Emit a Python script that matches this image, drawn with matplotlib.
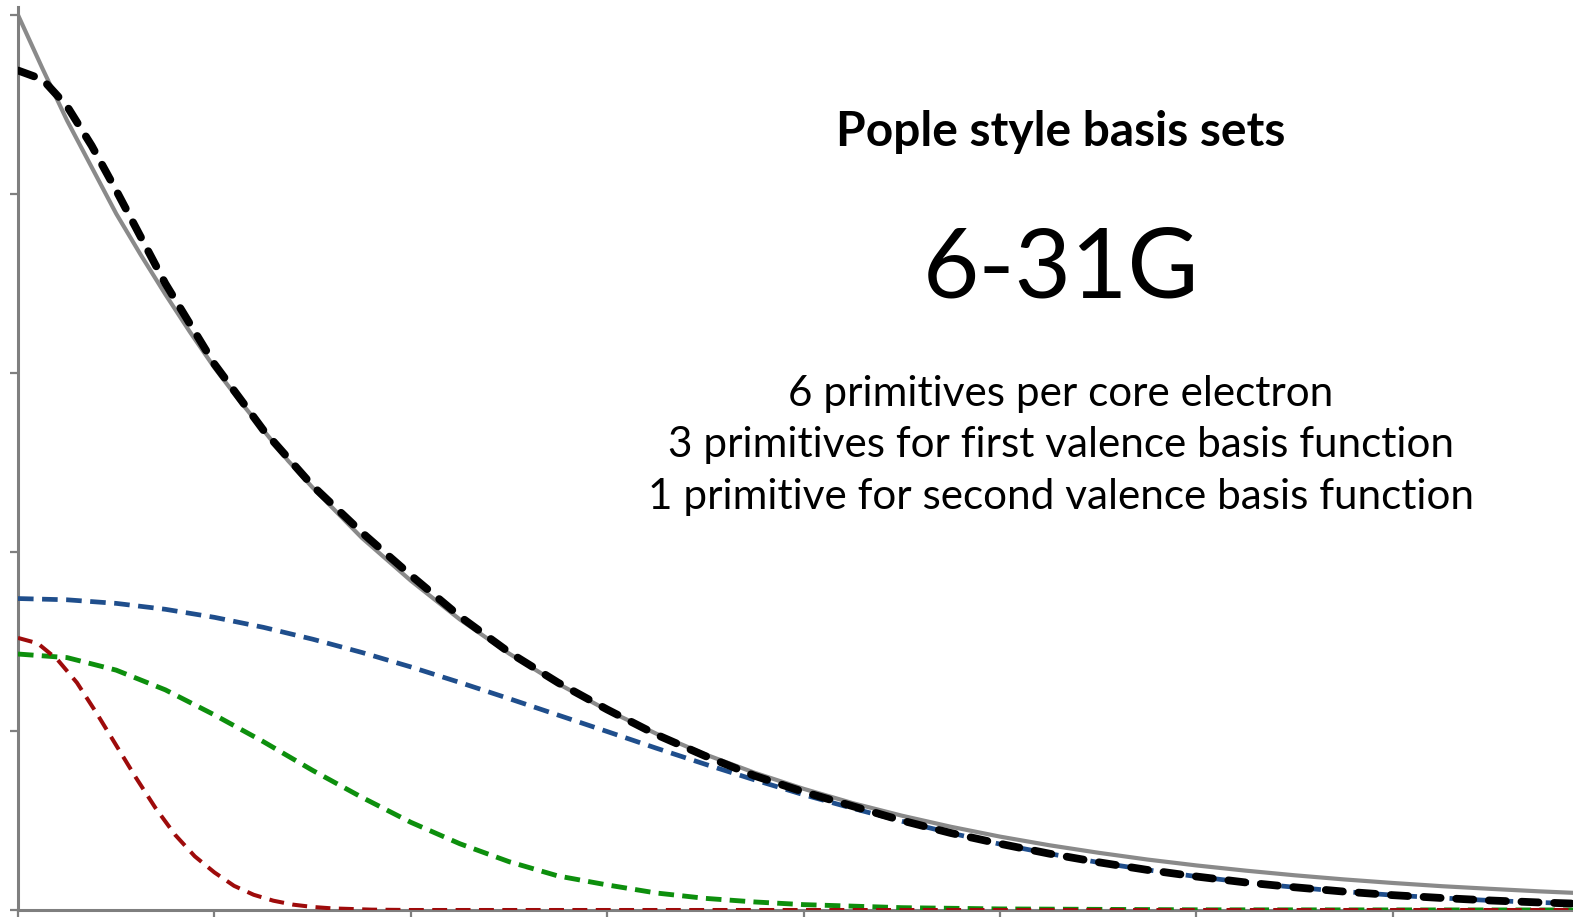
import matplotlib
matplotlib.use("Agg")
import matplotlib.pyplot as plt

# Slater-type orbital (reference curve)
sto_x = [0, 0.125, 0.25, 0.375, 0.5, 0.625, 0.75, 0.875, 1.0, 1.125, 1.25, 1.375, 1.5,
         1.625, 1.75, 1.875, 2.0, 2.25, 2.5, 2.75, 3.0, 3.25, 3.5, 3.75, 4.0, 4.25,
         4.5, 4.75, 5.0, 5.25, 5.5, 5.75, 6.0, 6.25, 6.5, 6.75, 7.0, 7.25, 7.5,
         7.75, 8.0]
sto_y = [5.00, 4.70, 4.41, 4.15, 3.89, 3.66, 3.44, 3.23, 3.03, 2.85, 2.68, 2.51, 2.36,
         2.22, 2.08, 1.96, 1.84, 1.623, 1.433, 1.264, 1.116, 0.985, 0.869, 0.767,
         0.677, 0.597, 0.527, 0.465, 0.410, 0.362, 0.320, 0.282, 0.249, 0.220,
         0.194, 0.171, 0.151, 0.133, 0.118, 0.104, 0.092]

# contracted function (sum of the primitives)
cgf_x = [0, 0.125, 0.25, 0.375, 0.5, 0.75, 1.0, 1.25, 1.5, 1.75, 2.0, 2.25, 2.5, 2.75,
         3.0, 3.25, 3.5, 3.75, 4.0, 4.25, 4.5, 4.75, 5.0, 5.25, 5.5, 5.75, 6.0,
         6.25, 6.5, 6.75, 7.0, 7.25, 7.5, 7.75, 8.0]
cgf_y = [4.69, 4.64, 4.49, 4.27, 4.02, 3.50, 3.05, 2.68, 2.37, 2.11, 1.87, 1.64, 1.44,
         1.27, 1.12, 0.98, 0.86, 0.75, 0.66, 0.58, 0.50, 0.43, 0.37, 0.315, 0.267,
         0.224, 0.187, 0.154, 0.127, 0.103, 0.083, 0.067, 0.053, 0.042, 0.033]

# primitives
wide_x = [0, 0.25, 0.5, 0.75, 1.0, 1.25, 1.5, 1.75, 2.0, 2.25, 2.5, 2.75, 3.0, 3.25,
          3.5, 3.75, 4.0, 4.25, 4.5, 4.75, 5.0, 5.25, 5.5, 5.75, 6.0, 6.25, 6.5,
          6.75, 7.0, 7.25, 7.5, 7.75, 8.0]
wide_y = [1.74, 1.733, 1.713, 1.680, 1.635, 1.579, 1.513, 1.439, 1.358, 1.271, 1.181,
          1.089, 0.997, 0.904, 0.814, 0.727, 0.644, 0.568, 0.496, 0.430, 0.368,
          0.315, 0.266, 0.224, 0.187, 0.154, 0.127, 0.103, 0.083, 0.067, 0.053,
          0.042, 0.033]

mid_x = [0, 0.25, 0.5, 0.75, 1.0, 1.25, 1.5, 1.75, 2.0, 2.25, 2.5, 2.75, 3.0, 3.25,
         3.5, 3.75, 4.0, 4.5, 5.0, 6.0, 8.0]
mid_y = [1.43, 1.41, 1.34, 1.23, 1.09, 0.94, 0.78, 0.63, 0.49, 0.37, 0.27, 0.19, 0.14,
         0.095, 0.065, 0.045, 0.03, 0.013, 0.006, 0.001, 0.0]

tight_x = [0, 0.1, 0.2, 0.3, 0.4, 0.5, 0.6, 0.7, 0.8, 0.9, 1.0, 1.1, 1.2, 1.3, 1.4,
           1.5, 1.6, 1.8, 2.0, 8.0]
tight_y = [1.52, 1.49, 1.40, 1.27, 1.10, 0.92, 0.74, 0.57, 0.42, 0.30, 0.21, 0.135,
           0.085, 0.052, 0.030, 0.017, 0.009, 0.002, 0.0, 0.0]

title = "Pople style basis sets"
basis_name = "6-31G"
notes = ["6 primitives per core electron",
         "3 primitives for first valence basis function",
         "1 primitive for second valence basis function"]

W, H = 1573, 917
fig = plt.figure(figsize=(W / 100, H / 100), dpi=100)
ax = fig.add_axes([18 / W, 7 / H, (W - 18) / W, 903 / H])

axis_gray = "#7f7f7f"
ax.plot(sto_x, sto_y, color="#8a8a8a", lw=3.0, solid_capstyle="butt", zorder=2)
ax.plot(wide_x, wide_y, color="#1f4e8c", lw=3.4, dashes=(3.3, 1.8), zorder=3)
ax.plot(mid_x, mid_y, color="#0d8f0d", lw=3.5, dashes=(3.2, 1.7), zorder=3)
ax.plot(tight_x, tight_y, color="#9e0b0b", lw=2.9, dashes=(3.7, 2.1), zorder=4)
ax.plot(cgf_x, cgf_y, color="black", lw=5.6, dashes=(2.2, 2.0),
        dash_capstyle="round", zorder=5)

ax.set_xlim(0, 1555 / 196.4)
ax.set_ylim(0, 903 / 179)
ax.set_xticks(range(0, 8))
ax.set_yticks(range(0, 6))
ax.set_xticklabels([])
ax.set_yticklabels([])
ax.tick_params(direction="out", length=6, width=1.6, color=axis_gray)
for side in ("top", "right"):
    ax.spines[side].set_visible(False)
for side in ("left", "bottom"):
    ax.spines[side].set_color(axis_gray)
    ax.spines[side].set_linewidth(2.2)
ax.patch.set_visible(False)

cx = 1061 / W
fig.text(cx, 1 - 146 / H, title, ha="center", va="baseline",
         fontsize=34.5, fontweight="bold", family="Lato")
fig.text(cx, 1 - 298 / H, basis_name, ha="center", va="baseline",
         fontsize=70, family="Lato")
for i, line in enumerate(notes):
    fig.text(cx, 1 - (406 + 51.5 * i) / H, line, ha="center", va="baseline",
             fontsize=30.4, family="Lato")

fig.savefig("out.png", dpi=100)
